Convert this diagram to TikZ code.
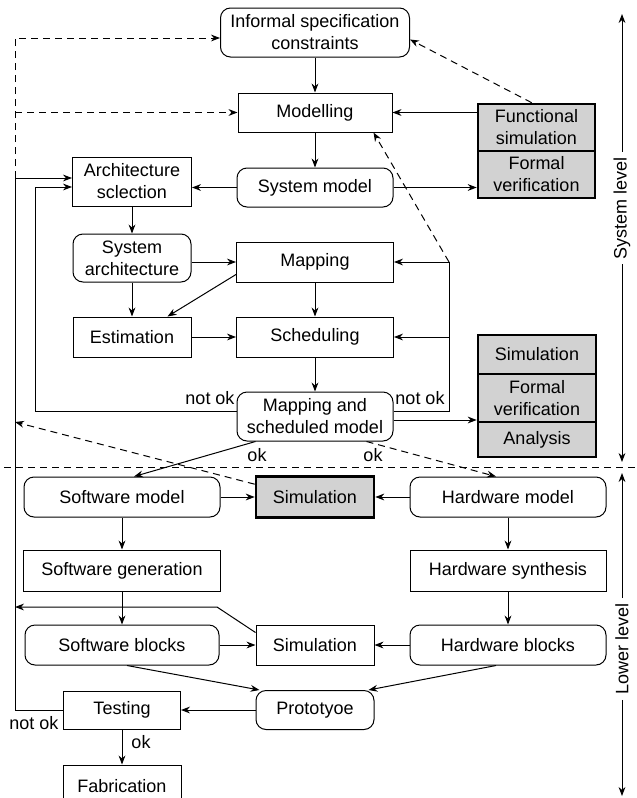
\documentclass[tikz,border=0pt]{standalone}
\usepackage{fontspec}
\setmainfont{Liberation Sans}
\usetikzlibrary{arrows.meta,calc,positioning}

\begin{document}
\begin{tikzpicture}[x=0.5pt,y=-0.5pt,
font=\fontsize{9}{11}\selectfont,
every node/.style={inner sep=0pt,align=center},
box/.style 2 args={draw,line width=0.5pt,minimum width=#1*0.5pt,minimum height=#2*0.5pt},
rbox/.style 2 args={box={#1}{#2},rounded corners=5pt},
gbox/.style 2 args={box={#1}{#2},fill=gray!35,line width=1.3pt},
arr/.style={-{Stealth[length=4.5pt,width=3.4pt]},line width=0.5pt},
dsh/.style={arr,dash pattern=on 3.5pt off 2.5pt}]
\useasboundingbox (0,0) rectangle (637,798);
\node[rbox={189}{49}] (inf) at (315,32.5) {Informal specification\\constraints};
\node[box={154}{39}] (mod) at (315,112.5) {Modelling};
\node[gbox={117}{47}] (fsim) at (536.5,127.5) {Functional\\simulation};
\node[gbox={117}{47}] (fver) at (536.5,174.5) {Formal\\verification};
\node[box={119}{49}] (arch) at (132,181.5) {Architecture\\sclection};
\node[rbox={156}{39}] (sysm) at (315,187.5) {System model};
\node[rbox={118}{48}] (sysa) at (132,258) {System\\architecture};
\node[box={157}{40}] (map) at (315,262) {Mapping};
\node[box={118}{40}] (est) at (132,337) {Estimation};
\node[box={157}{40}] (sch) at (315,337) {Scheduling};
\node[rbox={156}{49}] (msm) at (315,416.5) {Mapping and\\scheduled model};
\node[gbox={118}{39}] (sim) at (537,354.5) {Simulation};
\node[gbox={118}{48}] (fver2) at (537,398) {Formal\\verification};
\node[gbox={118}{35}] (ana) at (537,439.5) {Analysis};
\node[rbox={196}{40}] (swm) at (122,497) {Software model};
\node[gbox={118}{41}] (swsim) at (315,497) {Simulation};
\node[rbox={196}{40}] (hwm) at (508,497) {Hardware model};
\node[box={197}{41}] (swg) at (122,570.5) {Software generation};
\node[box={196}{41}] (hws) at (508,570.5) {Hardware synthesis};
\node[rbox={194}{40}] (swb) at (122,645) {Software blocks};
\node[box={118}{40}] (blksim) at (315,645) {Simulation};
\node[rbox={196}{40}] (hwb) at (508,645) {Hardware blocks};
\node[rbox={118}{39}] (proto) at (315,710) {Prototyoe};
\node[box={117}{38}] (test) at (122,710) {Testing};
\node[box={118}{42}] (fab) at (122,786) {Fabrication};
\node (nok1) at (210,398) {not ok};
\node (nok2) at (420,398) {not ok};
\node (ok1) at (257,455) {ok};
\node (ok2) at (373,455) {ok};
\node (nok3) at (34,723) {not ok};
\node (ok3) at (141,742) {ok};
\coordinate (otop) at (15,178);
\coordinate (obot) at (15,710);
\coordinate (itop) at (35,187);
\coordinate (ibot) at (35,411);
\coordinate (rtop) at (449,262);
\coordinate (rbot) at (449,411);
\coordinate (dtop) at (15,38);
\coordinate (dmid) at (15,422);
\coordinate (sbend) at (217,607);
\coordinate (sleft) at (15,607);
\coordinate (mse) at ($(msm.east)+(0,3.5)$);
\draw[arr] (inf) -- (mod);
\draw[arr] (mod.east -| fsim.west) -- (mod.east);
\draw[arr] (mod) -- (sysm);
\draw[arr] (sysm.west) -- (sysm.west -| arch.east);
\draw[arr] (sysm.east) -- (sysm.east -| fver.west);
\draw[arr] (arch) -- (sysa);
\draw[arr] (sysa.east |- map.west) -- (map.west);
\draw[arr] ($(map.south west)+(0,-8)$) -- ($(est.north east)+(-24,0)$);
\draw[arr] (sysa) -- (est);
\draw[arr] (est) -- (sch);
\draw[arr] (map) -- (sch);
\draw[arr] (sch) -- (msm);
\draw[arr] (mse) -- (mse -| fver2.west);
\draw[arr] (test.west) -- (obot) -- (otop) -- (otop -| arch.west);
\draw[arr] (ibot -| msm.west) -- (ibot) -- (itop) -- (itop -| arch.west);
\draw[line width=0.5pt] (rbot -| msm.east) -- (rbot) -- (rtop);
\draw[arr] (rtop) -- (map.east);
\draw[arr] (rtop |- sch.east) -- (sch.east);
\draw[dsh] (rtop) -- ($(mod.south east)+(-19,0)$);
\draw[dsh] (otop) -- (dtop) -- (dtop -| inf.west);
\draw[dsh] (otop |- mod.west) -- (mod.west);
\draw[dsh] ($(fsim.north west)+(55,0)$) -- ($(inf.east)+(0,7)$);
\draw[arr] ($(msm.south west)+(19,0)$) -- ($(swm.north)+(12,0)$);
\draw[dsh] ($(msm.south east)+(-27,0)$) -- ($(hwm.north)+(-12,0)$);
\draw[dsh] ($(swsim.north west)+(0,9)$) -- (dmid);
\draw[arr] (swm) -- (swsim);
\draw[arr] (hwm) -- (swsim);
\draw[arr] (swm) -- (swg);
\draw[arr] (hwm) -- (hws);
\draw[arr] (swg) -- (swb);
\draw[arr] (hws) -- (hwb);
\draw[arr] ($(blksim.north west)+(0,8)$) -- (sbend) -- (sleft);
\draw[arr] (swb) -- (blksim);
\draw[arr] (hwb) -- (blksim);
\draw[arr] ($(swb.south)+(5,0)$) -- ($(proto.north west)+(4,0)$);
\draw[arr] ($(hwb.south)+(-12,0)$) -- ($(proto.north east)+(-6,0)$);
\draw[arr] (proto) -- (test);
\draw[arr] (test) -- (fab);
\coordinate (sepl) at (4,467);
\coordinate (sepr) at (637,467);
\draw[line width=0.5pt,dash pattern=on 3.5pt off 2.5pt] (sepl) -- (sepr);
\node[rotate=90,inner sep=2.5pt] (syslvl) at (622,208) {System level};
\coordinate (systop) at (622,14);
\coordinate (sysbot) at (622,462);
\draw[arr] (syslvl.east) -- (systop);
\draw[arr] (syslvl.west) -- (sysbot);
\node[rotate=90,inner sep=2.5pt] (lowlvl) at (622,649) {Lower level};
\coordinate (lowtop) at (622,473);
\coordinate (lowbot) at (622,796);
\draw[arr] (lowlvl.east) -- (lowtop);
\draw[arr] (lowlvl.west) -- (lowbot);
\end{tikzpicture}
\end{document}
